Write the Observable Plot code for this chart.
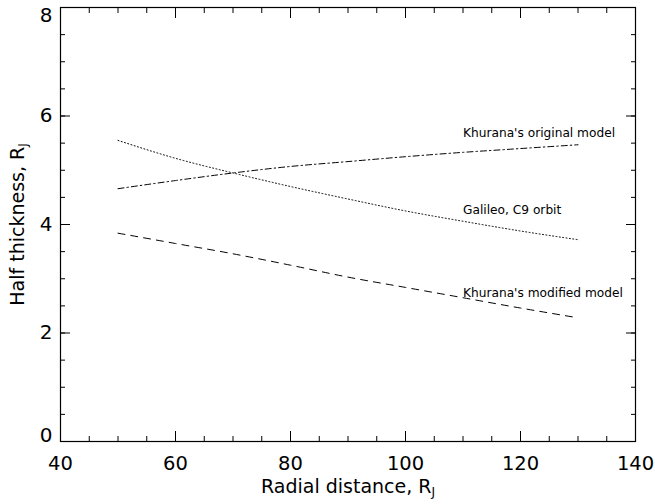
<!DOCTYPE html>
<html>
<head>
<meta charset="utf-8">
<script src="https://cdn.jsdelivr.net/npm/d3@7"></script>
<script src="https://cdn.jsdelivr.net/npm/@observablehq/plot@0.6"></script>
<style>
  html, body { margin: 0; padding: 0; background: #fff; }
</style>
</head>
<body>
<div id="chart"></div>
<script>
// Radial distance (R_J)
const radial = [50, 60, 70, 80, 90, 100, 110, 120, 130];
// Half thickness (R_J) per model
const khuranaOriginal = [4.66, 4.81, 4.95, 5.07, 5.16, 5.25, 5.33, 5.40, 5.47];
const galileoC9 = [5.55, 5.22, 4.95, 4.70, 4.47, 4.25, 4.06, 3.88, 3.72];
const khuranaModified = [3.84, 3.65, 3.46, 3.25, 3.03, 2.84, 2.65, 2.46, 2.28];

const seriesNames = ["Khurana's original model", "Galileo, C9 orbit", "Khurana's modified model"];
const labelX = [110, 110, 110];
const labelY = [5.69, 4.26, 2.74];

const xMajorTicks = [40, 60, 80, 100, 120, 140];
const xMinorTicks = [40, 45, 50, 55, 60, 65, 70, 75, 80, 85, 90, 95, 100, 105, 110, 115, 120, 125, 130, 135, 140];
const yMajorTicks = [0, 2, 4, 6, 8];
const yMinorTicks = [0, 0.5, 1, 1.5, 2, 2.5, 3, 3.5, 4, 4.5, 5, 5.5, 6, 6.5, 7, 7.5, 8];

const xTitle = "Radial distance, R";
const yTitle = "Half thickness, R";
const titleSub = "J";

const toRows = (ys) => radial.map((x, i) => ({x, y: ys[i]}));
const labels = seriesNames.map((name, i) => ({name, x: labelX[i], y: labelY[i]}));

const font = "DejaVu Sans, sans-serif";
const yMin = yMajorTicks[0], yMax = yMajorTicks[yMajorTicks.length - 1];
const yInner = yMajorTicks.filter(d => d !== yMin && d !== yMax);

const plot = Plot.plot({
  width: 655,
  height: 504,
  marginLeft: 60,
  marginRight: 20,
  marginTop: 7,
  marginBottom: 63,
  x: {domain: [40, 140]},
  y: {domain: [0, 8]},
  style: {fontFamily: font, background: "white", color: "black", overflow: "visible"},
  marks: [
    Plot.frame({stroke: "black", strokeWidth: 1.2}),
    // inward minor ticks on all four sides
    Plot.axisX({anchor: "bottom", ticks: xMinorTicks, tickSize: -5, fill: "none", label: null}),
    Plot.axisX({anchor: "top", ticks: xMinorTicks, tickSize: -5, fill: "none", label: null}),
    Plot.axisY({anchor: "left", ticks: yMinorTicks, tickSize: -5, fill: "none", label: null}),
    Plot.axisY({anchor: "right", ticks: yMinorTicks, tickSize: -5, fill: "none", label: null}),
    // inward major ticks
    Plot.axisX({anchor: "bottom", ticks: xMajorTicks, tickSize: -10, fill: "none", label: null}),
    Plot.axisX({anchor: "top", ticks: xMajorTicks, tickSize: -10, fill: "none", label: null}),
    Plot.axisY({anchor: "left", ticks: yMajorTicks, tickSize: -10, fill: "none", label: null}),
    Plot.axisY({anchor: "right", ticks: yMajorTicks, tickSize: -10, fill: "none", label: null}),
    // x tick labels
    Plot.axisX({anchor: "bottom", ticks: xMajorTicks, tickSize: 0, tickPadding: 15, fontSize: 19.5, label: null, tickFormat: d => String(d)}),
    // y tick labels (edge labels kept inside the frame height)
    Plot.text(yInner, {y: d => d, frameAnchor: "left", dx: -8, textAnchor: "end", fontSize: 20, text: d => String(d)}),
    Plot.text([yMax], {y: d => d, frameAnchor: "left", dx: -8, textAnchor: "end", lineAnchor: "top", fontSize: 20, text: d => String(d)}),
    Plot.text([yMin], {y: d => d, frameAnchor: "left", dx: -8, textAnchor: "end", lineAnchor: "bottom", fontSize: 20, text: d => String(d)}),
    // axis titles
    Plot.text([xTitle], {frameAnchor: "bottom", dy: 51, textAnchor: "middle", fontSize: 19, text: d => d}),
    Plot.text([yTitle], {frameAnchor: "left", dx: -43, rotate: -90, textAnchor: "middle", fontSize: 19, text: d => d}),
    // series
    Plot.line(toRows(khuranaOriginal), {x: "x", y: "y", stroke: "black", strokeWidth: 1, strokeDasharray: "6,3,1.5,3", curve: "monotone-x"}),
    Plot.line(toRows(galileoC9), {x: "x", y: "y", stroke: "black", strokeWidth: 1, strokeDasharray: "1,2.4", curve: "monotone-x"}),
    Plot.line(toRows(khuranaModified), {x: "x", y: "y", stroke: "black", strokeWidth: 1, strokeDasharray: "7,6", curve: "monotone-x"}),
    // series annotations
    Plot.text(labels, {x: "x", y: "y", text: "name", textAnchor: "start", fontSize: 12.2, fill: "black"})
  ]
});

// subscript J for the axis titles
d3.select(plot).selectAll("text").each(function() {
  const t = this.textContent;
  if (t === xTitle || t === yTitle) {
    d3.select(this).append("tspan").attr("font-size", 12).attr("dy", "0.3em").text(titleSub);
  }
});

document.getElementById("chart").appendChild(plot);
</script>
</body>
</html>
